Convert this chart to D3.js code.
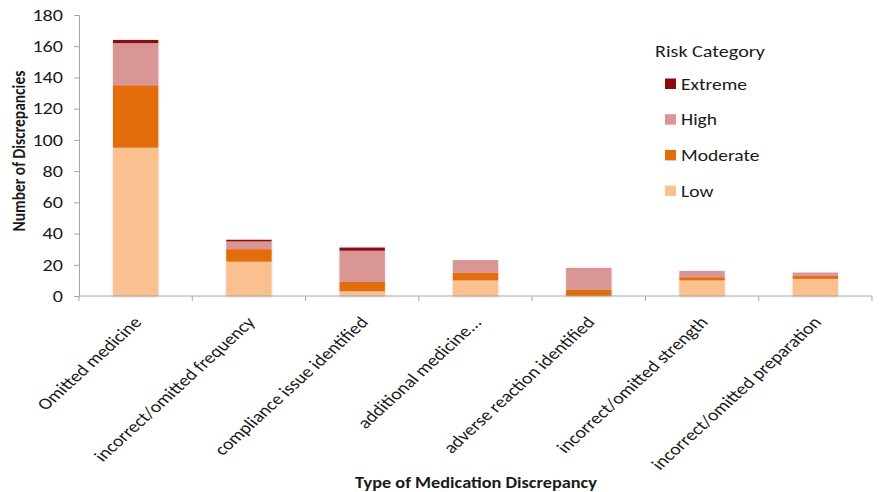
<!DOCTYPE html>
<html>
<head>
<meta charset="utf-8">
<script src="https://cdn.jsdelivr.net/npm/d3@7/dist/d3.min.js"></script>
<style>
  html, body { margin: 0; padding: 0; background: #fff; }
  svg { display: block; font-family: Carlito, Lato, "Liberation Sans", sans-serif; }
</style>
</head>
<body>
<svg id="chart" width="880" height="492"></svg>
<script>
// Medication discrepancy types and counts per risk category
const categories = [
  "Omitted medicine",
  "incorrect/omitted frequency",
  "compliance issue identified",
  "additional medicine...",
  "adverse reaction identified",
  "incorrect/omitted strength",
  "incorrect/omitted preparation"
];
const riskLevels = ["Low", "Moderate", "High", "Extreme"];
const low      = [95, 22, 3, 10, 0, 10, 11];
const moderate = [40, 8, 6, 5, 4, 2, 2];
const high     = [27, 5, 20, 8, 14, 4, 2];
const extreme  = [2, 1, 2, 0, 0, 0, 0];
const yTicks = [0, 20, 40, 60, 80, 100, 120, 140, 160, 180];
const colors = { Low: "#FAC090", Moderate: "#E36C09", High: "#D99694", Extreme: "#8B0A0A" };

const rows = categories.map((c, i) => ({
  category: c, Low: low[i], Moderate: moderate[i], High: high[i], Extreme: extreme[i]
}));

const svg = d3.select("#chart");
const left = 79, right = 872;
const SX = 1.22; // horizontal stretch of the lettering

const x = d3.scaleBand().domain(categories).range([left, right]).paddingInner(0.6).paddingOuter(0.3);
const xEdge = d3.scaleBand().domain(categories).range([left, right]).padding(0);
const y = d3.scaleLinear().domain([0, 180]).range([296, 15]);

// Soft shadow under bars
const defs = svg.append("defs");
const f = defs.append("filter").attr("id", "shadow").attr("x", "-20%").attr("y", "-20%").attr("width", "140%").attr("height", "140%");
f.append("feDropShadow").attr("dx", 0).attr("dy", 0.5).attr("stdDeviation", 1.2)
  .attr("flood-color", "#000").attr("flood-opacity", 0.22);

// Y axis (line and ticks from d3, labels drawn stretched)
const yAxis = d3.axisLeft(y).tickValues(yTicks).tickSize(5).tickSizeOuter(5).tickFormat("");
const gy = svg.append("g").attr("transform", `translate(${left},0)`).call(yAxis);
gy.select(".domain").attr("stroke", "#a6a6a6");
gy.selectAll(".tick line").attr("stroke", "#a6a6a6");
svg.append("g").selectAll("text").data(yTicks).join("text")
  .attr("transform", d => `translate(${left - 16},${y(d)}) scale(${SX},1)`)
  .attr("text-anchor", "end").attr("dy", "0.35em")
  .attr("font-size", 16.5).attr("fill", "#1a1a1a")
  .text(d => d);

// Stacked bars
const stack = d3.stack().keys(riskLevels)(rows);
svg.append("g").attr("filter", "url(#shadow)")
  .selectAll("g").data(stack).join("g")
  .attr("fill", d => colors[d.key])
  .selectAll("rect").data(d => d).join("rect")
  .attr("x", d => x(d.data.category))
  .attr("width", x.bandwidth())
  .attr("y", d => y(d[1]))
  .attr("height", d => y(d[0]) - y(d[1]));

// X axis: ticks on category boundaries
const gx = svg.append("g").attr("transform", `translate(0,296)`);
gx.append("line").attr("x1", left).attr("x2", right).attr("y1", 0).attr("y2", 0).attr("stroke", "#a6a6a6");
const edges = categories.map(c => xEdge(c)).concat([right]);
gx.selectAll("line.edge").data(edges).join("line").attr("class", "edge")
  .attr("x1", d => d).attr("x2", d => d).attr("y1", 0).attr("y2", 5).attr("stroke", "#a6a6a6");

svg.append("g").selectAll("text").data(categories).join("text")
  .attr("transform", d => `translate(${xEdge(d) + xEdge.bandwidth() / 2 + 7},323) scale(${SX},1) rotate(-48)`)
  .attr("text-anchor", "end")
  .attr("font-size", 16.3)
  .attr("fill", "#1a1a1a")
  .text(d => d);

// Axis titles
svg.append("text")
  .attr("transform", `translate(25,151) scale(${SX},1) rotate(-90)`)
  .attr("text-anchor", "middle").attr("font-size", 15.5).attr("font-weight", "bold").attr("fill", "#1a1a1a")
  .text("Number of Discrepancies");
svg.append("text")
  .attr("transform", `translate(476,488) scale(${SX},1)`)
  .attr("text-anchor", "middle").attr("font-size", 15).attr("font-weight", "bold").attr("fill", "#1a1a1a")
  .text("Type of Medication Discrepancy");

// Legend
const legend = svg.append("g");
legend.append("text").attr("transform", `translate(655,57) scale(${SX},1)`)
  .attr("font-size", 16.5).attr("fill", "#1a1a1a").text("Risk Category");
const legendOrder = ["Extreme", "High", "Moderate", "Low"];
const li = legend.selectAll("g.item").data(legendOrder).join("g").attr("class", "item")
  .attr("transform", (d, i) => `translate(665,${84 + i * 35.7})`);
li.append("rect").attr("x", 0).attr("y", -5.5).attr("width", 11).attr("height", 10.5).attr("fill", d => colors[d]);
li.append("text").attr("transform", `translate(16,5.5) scale(${SX},1)`)
  .attr("font-size", 16).attr("fill", "#1a1a1a").text(d => d);
</script>
</body>
</html>
